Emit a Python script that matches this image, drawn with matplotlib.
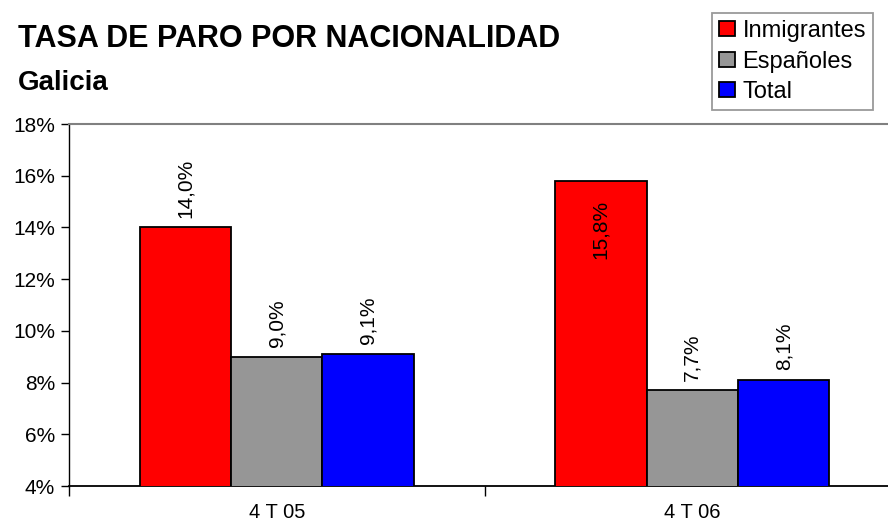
import matplotlib.pyplot as plt
from matplotlib.ticker import FixedLocator
import numpy as np

plt.rcParams['font.family'] = ['Liberation Sans', 'DejaVu Sans']

periods = ["4 T 05", "4 T 06"]
series = ["Inmigrantes", "Españoles", "Total"]
inmigrantes = [14.0, 15.8]
espanoles = [9.0, 7.7]
total = [9.1, 8.1]
yticks = [4, 6, 8, 10, 12, 14, 16, 18]

colours = ["#ff0000", "#969696", "#0000ff"]
values = [inmigrantes, espanoles, total]

fig = plt.figure(figsize=(8.88, 5.23), dpi=100)
ax = fig.add_axes([69 / 888, 1 - 486 / 523, 831 / 888, 362 / 523])

x = np.arange(len(periods))
w = 0.22
for i, (vals, col, lab) in enumerate(zip(values, colours, series)):
    ax.bar(x + (i - 1) * w, vals, w, bottom=0, color=col, edgecolor="black",
           linewidth=1.3, label=lab, zorder=3)
    for xi, v in zip(x + (i - 1) * w, vals):
        txt = f"{v:.1f}%".replace(".", ",")
        if v > 15:
            # no room above: Excel puts it inside the bar
            ax.annotate(txt, (xi, v), xytext=(0, -14), textcoords="offset points",
                        rotation=90, ha="center", va="top", fontsize=15)
        else:
            ax.annotate(txt, (xi, v), xytext=(0, 7), textcoords="offset points",
                        rotation=90, ha="center", va="bottom", fontsize=15)

ax.set_ylim(4, 18)
ax.set_xlim(-0.5, 1.5)
ax.set_yticks(yticks)
ax.set_yticklabels([f"{t}%" for t in yticks])
ax.set_xticks(x)
ax.set_xticklabels(periods)
ax.xaxis.set_minor_locator(FixedLocator([-0.5, 0.5, 1.5]))
ax.tick_params(axis="x", which="major", length=0, pad=12, labelsize=14.5)
ax.tick_params(axis="x", which="minor", length=7, width=1, direction="out")
ax.tick_params(axis="y", length=6, width=1, direction="out", pad=4, labelsize=15)

ax.spines["right"].set_visible(False)
ax.spines["top"].set_color("#808080")
ax.spines["top"].set_linewidth(1.5)
ax.spines["left"].set_linewidth(1)
ax.spines["bottom"].set_linewidth(1.3)

fig.text(18 / 888, 1 - 47 / 523, "TASA DE PARO POR NACIONALIDAD", fontsize=22,
         fontweight="bold", ha="left", va="baseline")
fig.text(18 / 888, 1 - 90 / 523, "Galicia", fontsize=20, fontweight="bold",
         ha="left", va="baseline")

leg = fig.legend(loc="upper right", bbox_to_anchor=(873 / 888, 1 - 13 / 523),
                 bbox_transform=fig.transFigure, borderaxespad=0, fontsize=17,
                 frameon=True, fancybox=False, edgecolor="#808080",
                 handlelength=0.7, handleheight=0.6, handletextpad=0.3,
                 labelspacing=0.36, borderpad=0.3)
leg.get_frame().set_linewidth(1.3)

plt.savefig("out.png", dpi=100)
